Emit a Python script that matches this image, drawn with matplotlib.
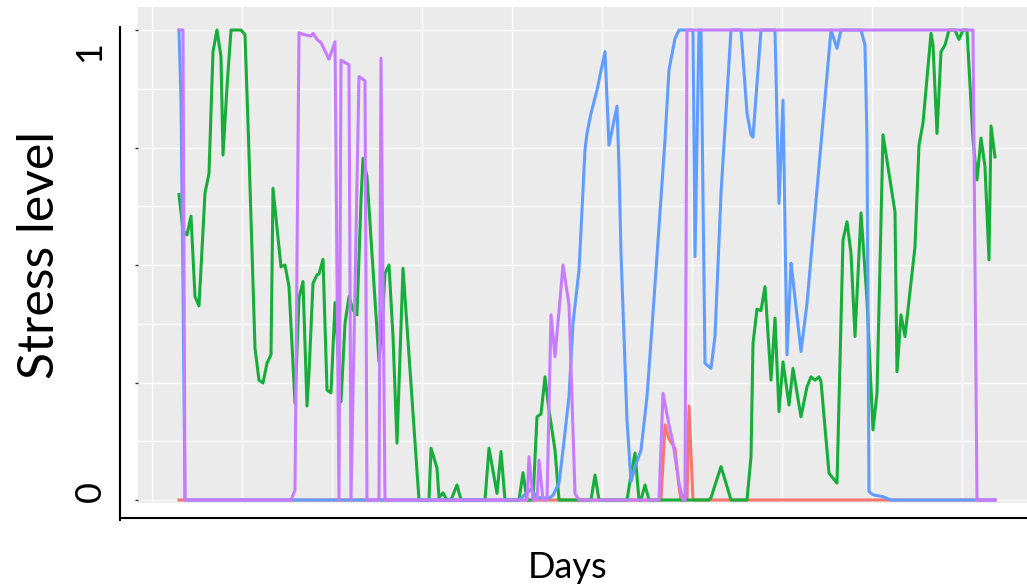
import matplotlib
matplotlib.use("Agg")
import matplotlib.pyplot as plt
from matplotlib.lines import Line2D
import numpy as np

# ---------------- data ----------------
red_days = [0, 241, 243, 245, 248, 250, 251, 254, 255, 257, 408]
red_vals = [0, 0, 0.16, 0.13, 0.11, 0.028, 0, 0, 0.2, 0, 0]

green_days = [0, 2, 4, 6, 8, 10, 13, 15, 17, 19, 21, 22, 24, 26, 31, 33, 35, 38, 40, 42,
              44, 46, 47, 51, 53, 55, 58, 60, 62, 64, 65, 67, 69, 70, 72, 74, 76, 78, 81, 83,
              85, 87, 89, 91, 92, 94, 100, 102, 103, 105, 107, 109, 112, 120, 125, 126, 129, 130, 132, 134,
              136, 139, 141, 153, 155, 159, 161, 163, 170, 172, 174, 177, 179, 181, 183, 185, 188, 190, 206, 208,
              210, 224, 226, 228, 230, 231, 233, 235, 265, 266, 271, 273, 276, 284, 286, 287, 289, 291, 293, 296,
              298, 300, 302, 305, 307, 311, 314, 316, 318, 320, 321, 325, 329, 332, 334, 336, 338, 341, 344, 347,
              349, 352, 358, 359, 361, 363, 368, 370, 372, 376, 377, 379, 381, 383, 385, 388, 390, 392, 394, 397,
              399, 401, 403, 405, 406, 408]
green_vals = [0.65, 0.574, 0.564, 0.604, 0.433, 0.413, 0.653, 0.695, 0.954, 1.0, 0.943, 0.734, 0.879, 1.0, 1.0, 0.99, 0.738, 0.323, 0.255, 0.249,
              0.291, 0.309, 0.663, 0.496, 0.5, 0.454, 0.206, 0.43, 0.465, 0.2, 0.27, 0.461, 0.479, 0.481, 0.512, 0.234, 0.228, 0.42, 0.209, 0.376,
              0.433, 0.404, 0.394, 0.638, 0.727, 0.688, 0.294, 0.404, 0.482, 0.5, 0.348, 0.121, 0.493, 0, 0, 0.11, 0.068, 0.005, 0.015, 0,
              0, 0.032, 0, 0, 0.11, 0.014, 0.103, 0, 0, 0.058, 0, 0, 0.177, 0.183, 0.262, 0.191, 0.106, 0, 0, 0.053,
              0, 0, 0.053, 0.1, 0, 0, 0.032, 0, 0, 0.005, 0.071, 0.043, 0, 0, 0.092, 0.333, 0.406, 0.403, 0.454, 0.255,
              0.387, 0.188, 0.294, 0.202, 0.28, 0.177, 0.241, 0.262, 0.255, 0.262, 0.252, 0.057, 0.036, 0.553, 0.592, 0.525, 0.348, 0.611, 0.426, 0.149,
              0.227, 0.777, 0.613, 0.273, 0.394, 0.348, 0.539, 0.755, 0.802, 0.993, 0.968, 0.78, 0.954, 0.968, 1.0, 1.0, 0.98, 1.0, 1.0, 0.766,
              0.681, 0.77, 0.709, 0.511, 0.796, 0.73]

blue_days = [0, 1, 2, 3, 170, 176, 179, 185, 187, 190, 192, 195, 197, 200, 201, 203, 204, 206, 209, 213,
             215, 219, 220, 221, 224, 226, 228, 231, 234, 237, 240, 243, 245, 248, 250, 257, 258, 260, 261, 263,
             266, 268, 271, 276, 281, 284, 286, 287, 291, 298, 299, 300, 302, 304, 306, 307, 311, 314, 326, 329,
             331, 341, 343, 344, 345, 347, 352, 356, 408]
blue_vals = [1.0, 0.85, 0.45, 0, 0, 0.023, 0.005, 0.004, 0.01, 0.036, 0.106, 0.22, 0.376, 0.489, 0.574, 0.745, 0.78, 0.823, 0.872, 0.954,
             0.755, 0.838, 0.709, 0.525, 0.17, 0.039, 0.071, 0.106, 0.22, 0.397, 0.582, 0.766, 0.915, 0.982, 1.0, 1.0, 0.518, 1.0, 1.0, 0.291,
             0.28, 0.348, 0.652, 1.0, 1.0, 0.823, 0.777, 0.772, 1.0, 1.0, 0.809, 0.631, 0.851, 0.309, 0.504, 0.468, 0.316, 0.418, 1.0, 0.961,
             1.0, 1.0, 0.968, 0.766, 0.018, 0.011, 0.007, 0, 0]

purple_days = [0, 2, 3, 56, 58, 60, 62, 66, 67, 69, 71, 75, 78, 80, 81, 85, 86, 90, 93, 94,
               100, 101, 103, 174, 175, 177, 179, 180, 182, 184, 186, 188, 192, 195, 198, 200, 240, 242, 245, 247,
               250, 252, 253, 254, 397, 399, 408]
purple_vals = [1.0, 1.0, 0, 0, 0.021, 0.994, 0.991, 0.987, 0.993, 0.98, 0.973, 0.938, 0.975, 0, 0.936, 0.926, 0, 0.901, 0.892, 0,
               0, 0.94, 0, 0, 0.092, 0, 0, 0.085, 0, 0, 0.394, 0.305, 0.5, 0.415, 0.014, 0, 0, 0.227, 0.16, 0.121,
               0.036, 0, 0, 1.0, 1.0, 0, 0]

y_ticks = [0, 0.25, 0.5, 0.75, 1.0]
y_minor = [0.125, 0.375, 0.625, 0.875]
x_grid = np.arange(-13.5, 440, 45)

colors = {"red": "#F8766D", "green": "#17AD3A", "blue": "#619CFF", "purple": "#C77CFF"}

# ---------------- figure ----------------
W, H = 1027, 588
fig = plt.figure(figsize=(W / 100, H / 100), dpi=100)
plt.rcParams['font.family'] = ['Lato', 'DejaVu Sans']

left_px, right_px, top_px, bot_px = 138, 1036, 7, 503
ax = fig.add_axes([left_px / W, 1 - bot_px / H, (right_px - left_px) / W, (bot_px - top_px) / H])
ax.set_facecolor("#EBEBEB")
for s in ax.spines.values():
    s.set_visible(False)

ax.set_xlim(-20.5, 428.5)
ax.set_ylim(-0.0064, 1.049)

for yv in y_ticks + y_minor:
    ax.axhline(yv, color="white", lw=1.0, zorder=0.5)
for xv in x_grid:
    ax.axvline(xv, color="white", lw=1.0, zorder=0.5)

lw = 2.2
ax.plot(red_days, red_vals, color=colors["red"], lw=lw, zorder=2)
ax.plot(green_days, green_vals, color=colors["green"], lw=lw, zorder=3)
ax.plot(blue_days, blue_vals, color=colors["blue"], lw=lw, zorder=4)
ax.plot(purple_days, purple_vals, color=colors["purple"], lw=lw, zorder=5)

ax.set_yticks(y_ticks)
ax.set_yticklabels([])
ax.tick_params(axis="y", length=2.5, width=1, color="#333333")
ax.set_xticks([])

# manual axis lines
fig.add_artist(Line2D([120 / W, 120 / W], [1 - 27 / H, 1 - 520 / H], color="black", lw=1.5))
fig.add_artist(Line2D([120 / W, 1], [1 - 518 / H, 1 - 518 / H], color="black", lw=1.5))

fig.text(90 / W, 1 - 52 / H, "1", rotation=90, ha="center", va="center", fontsize=26)
fig.text(90 / W, 1 - 492 / H, "0", rotation=90, ha="center", va="center", fontsize=26)
fig.text(40 / W, 1 - 255 / H, "Stress level", rotation=90, ha="center", va="center", fontsize=36)
fig.text(568 / W, 1 - 567 / H, "Days", ha="center", va="center", fontsize=26)

fig.savefig("out.png", dpi=100)
